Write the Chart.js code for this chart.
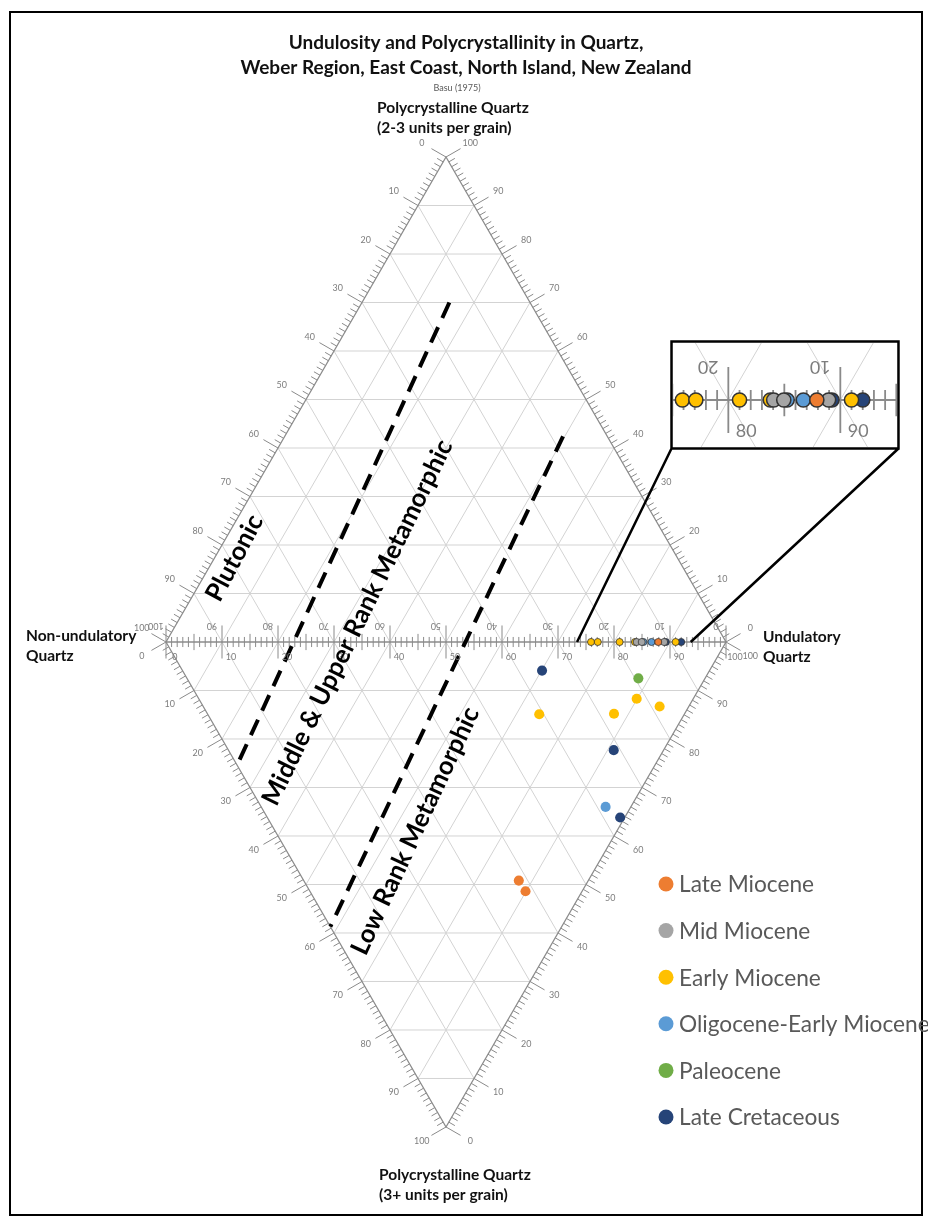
<!DOCTYPE html>
<html>
<head>
<meta charset="utf-8">
<script src="https://cdn.jsdelivr.net/npm/chart.js@4.4.1/dist/chart.umd.min.js"></script>
<style>
html,body{margin:0;padding:0;background:#fff;overflow:hidden;}
#wrap{position:relative;width:928px;height:1221px;overflow:hidden;background:#fff;}
#frame{position:absolute;left:9px;top:11px;width:910px;height:1201px;border:2px solid #000;}
#c1{position:absolute;left:0;top:0;width:928px;height:1221px;}
#c2{position:absolute;left:673px;top:343px;width:224px;height:104px;background:#fff;}
</style>
</head>
<body>
<div id="wrap">
  <div id="frame"></div>
  <canvas id="c1" width="928" height="1221"></canvas>
  <canvas id="c2" width="224" height="104"></canvas>
</div>
<script>
// ---------------- DATA ----------------
// Each sample: U = % undulatory quartz along the Non-undulatory/Undulatory axis,
// P = % polycrystalline quartz (3+ units per grain). P = 0 -> sample lies on the axis.
const seriesNames = ['Late Miocene','Mid Miocene','Early Miocene','Oligocene-Early Miocene','Paleocene','Late Cretaceous'];
const seriesColors = ['#ED7D31','#A5A5A5','#FFC000','#5B9BD5','#70AD47','#264478'];

const lateMioceneU = [87.9, 38.4, 38.5];
const lateMioceneP = [0, 49.2, 51.4];
const midMioceneU = [84.05, 84.95, 88.95];
const midMioceneP = [0, 0, 0];
const earlyMioceneU = [75.9, 77.1, 81.0, 83.75, 91.0, 78.2, 81.5, 59.2, 72.6];
const earlyMioceneP = [0, 0, 0, 0, 0, 11.7, 13.3, 14.9, 14.8];
const oligoEarlyMioceneU = [85.25, 86.7, 61.5];
const oligoEarlyMioceneP = [0, 0, 34.0];
const paleoceneU = [80.6];
const paleoceneP = [7.5];
const lateCretaceousU = [89.25, 92.0, 64.2, 68.8, 63.0];
const lateCretaceousP = [0, 0, 5.9, 22.3, 36.2];

const seriesU = [lateMioceneU, midMioceneU, earlyMioceneU, oligoEarlyMioceneU, paleoceneU, lateCretaceousU];
const seriesP = [lateMioceneP, midMioceneP, earlyMioceneP, oligoEarlyMioceneP, paleoceneP, lateCretaceousP];

// scale ticks / grid
const gridSteps = [10, 20, 30, 40, 50, 60, 70, 80, 90];
const labelValues = [0, 10, 20, 30, 40, 50, 60, 70, 80, 90, 100];

// Basu (1975) field boundaries: [U, Q(top)] -> [U, P(bottom)]
const boundaryA = [[15.6, 70.0], [0, 25.4]];
const boundaryB = [[49.7, 42.4], [0, 58.7]];

// ---------------- GEOMETRY HELPERS ----------------
const H = Math.sqrt(3) / 2;
const topPt = (U, Q) => ({x: U + Q / 2, y: Q * H});
const botPt = (U, P) => ({x: U + P / 2, y: -P * H});
const GAP = {x: NaN, y: NaN};

const edgeDefs = [
  {at: v => ({x: 50 - 0.5 * v, y: (100 - v) * H}), n: {x: -H, y: 0.5}},   // Non-undulatory % (upper left)
  {at: v => ({x: 100 - 0.5 * v, y: v * H}), n: {x: H, y: 0.5}},          // Poly 2-3 % (upper right)
  {at: v => ({x: 0.5 * v, y: -v * H}), n: {x: -H, y: -0.5}},             // Poly 3+ % (lower left)
  {at: v => ({x: 50 + 0.5 * v, y: -(100 - v) * H}), n: {x: H, y: -0.5}}  // Undulatory % (lower right)
];

function gridData() {
  const d = [];
  const seg = (a, b) => { d.push(a, b, GAP); };
  gridSteps.forEach(v => {
    seg(topPt(0, v), topPt(100 - v, v));
    seg(topPt(v, 0), topPt(v, 100 - v));
    seg(topPt(100 - v, 0), topPt(0, 100 - v));
    seg(botPt(0, v), botPt(100 - v, v));
    seg(botPt(v, 0), botPt(v, 100 - v));
    seg(botPt(100 - v, 0), botPt(0, 100 - v));
  });
  return d;
}
function edgeData() {
  const L = topPt(0, 0), T = topPt(0, 100), R = topPt(100, 0), B = botPt(0, 100);
  return [L, T, R, B, L, GAP, L, R];
}
function tickData() {
  const d = [];
  edgeDefs.forEach(e => {
    for (let v = 0; v <= 100; v++) {
      const p = e.at(v);
      const len = v % 10 === 0 ? 3.0 : 1.25;
      d.push(p, {x: p.x + e.n.x * len, y: p.y + e.n.y * len}, GAP);
    }
  });
  for (let v = 0; v <= 100; v++) {
    const len = v % 10 === 0 ? 2.95 : (v % 5 === 0 ? 1.45 : 0.9);
    d.push({x: v, y: -len}, {x: v, y: len}, GAP);
  }
  return d;
}
function boundaryData() {
  const d = [];
  [boundaryA, boundaryB].forEach(b => { d.push(topPt(b[0][0], b[0][1]), botPt(b[1][0], b[1][1]), GAP); });
  return d;
}
function zoomBoxData() {
  // magnifier frame (main chart units) and leader lines to the axis
  const l = 90.27, r = 130.80, t = 53.66, b = 34.55;
  return [{x: l, y: b}, {x: l, y: t}, {x: r, y: t}, {x: r, y: b}, {x: l, y: b}, GAP,
          {x: l, y: b}, {x: 73.4, y: 0}, GAP, {x: r, y: b}, {x: 93.7, y: 0}];
}
function lineDs(data, color, width, order, dash) {
  return {data, showLine: true, borderColor: color, borderWidth: width, pointRadius: 0,
          pointHoverRadius: 0, fill: false, tension: 0, order, borderDash: dash || [], spanGaps: false};
}
function makeDatasets(main, ppu) {
  const ds = [];
  const onAxis = c => c.raw && Math.abs(c.raw.y) < 1e-9;
  seriesNames.forEach((name, i) => {
    ds.push({label: name, isSeries: true,
      data: seriesU[i].map((u, k) => botPt(u, seriesP[i][k])),
      backgroundColor: seriesColors[i], borderColor: '#333',
      pointBorderWidth: c => (onAxis(c) ? 0.14 * ppu : 0),
      pointRadius: c => (onAxis(c) ? 0.63 * ppu : 0.9 * ppu),
      pointHoverRadius: c => (onAxis(c) ? 0.63 * ppu : 0.9 * ppu),
      showLine: false, order: 1});
  });
  ds.push(lineDs(gridData(), '#d3d3d3', 1, 20));
  ds.push(lineDs(edgeData(), '#8c8c8c', main ? 1.3 : 2, 15));
  ds.push(lineDs(tickData(), '#8a8a8a', main ? 1 : 1.8, 14));
  if (main) {
    ds.push(lineDs(boundaryData(), '#000', 4, 10, [17, 10]));
    ds.push(lineDs(zoomBoxData(), '#000', 2.5, 9));
  }
  return ds;
}

// ---------------- TEXT PLUGIN ----------------
const FONT = 'Lato, "Open Sans", sans-serif';
const textPlugin = {
  id: 'txt',
  afterDatasetsDraw(chart, args, o) {
    const ctx = chart.ctx, xs = chart.scales.x, ys = chart.scales.y;
    const px = p => [xs.getPixelForValue(p.x), ys.getPixelForValue(p.y)];
    const u = o.ppu;
    ctx.save();
    ctx.textAlign = 'center'; ctx.textBaseline = 'middle';
    ctx.fillStyle = '#7d7d7d';
    ctx.font = (1.6 * u) + 'px ' + FONT;
    edgeDefs.forEach(e => { labelValues.forEach(v => {
      const p = e.at(v);
      const [X, Y] = px({x: p.x + e.n.x * 5, y: p.y + e.n.y * 5});
      ctx.fillText(String(v), X, Y);
    }); });
    labelValues.forEach(v => {
      let [X, Y] = px({x: v + 1.6, y: -2.75});
      ctx.fillText(String(v), X, Y);
      [X, Y] = px({x: v - 1.8, y: 2.95});
      ctx.save(); ctx.translate(X, Y); ctx.rotate(Math.PI); ctx.fillText(String(100 - v), 0, 0); ctx.restore();
    });
    if (o.main) {
      // field names
      ctx.fillStyle = '#000';
      ctx.font = 'bold 25.5px ' + FONT;
      const field = (txt, p, deg) => {
        const [X, Y] = px(p);
        ctx.save(); ctx.translate(X, Y); ctx.rotate(-deg * Math.PI / 180); ctx.fillText(txt, 0, 0); ctx.restore();
      };
      field('Plutonic', {x: 12.25, y: 15.0}, 62);
      field('Middle & Upper Rank Metamorphic', {x: 34.2, y: 3.5}, 64);
      field('Low Rank Metamorphic', {x: 44.5, y: -33.75}, 65);

      // titles
      ctx.fillStyle = '#111';
      ctx.font = 'bold 19px ' + FONT;
      ctx.fillText('Undulosity and Polycrystallinity in Quartz,', 466, 43);
      ctx.fillText('Weber Region, East Coast, North Island, New Zealand', 466, 68);
      ctx.fillStyle = '#595959'; ctx.font = '9px ' + FONT;
      ctx.fillText('Basu (1975)', 457, 88);

      // pole names
      ctx.fillStyle = '#111'; ctx.textAlign = 'left';
      ctx.font = 'bold 15.5px ' + FONT;
      ctx.fillText('Polycrystalline Quartz', 377, 108);
      ctx.fillText('(2-3 units per grain)', 377, 128);
      ctx.fillText('Polycrystalline Quartz', 379, 1175);
      ctx.fillText('(3+ units per grain)', 379, 1195);
      ctx.fillText('Non-undulatory', 26, 636);
      ctx.fillText('Quartz', 26, 656);
      ctx.fillText('Undulatory', 763, 637);
      ctx.fillText('Quartz', 763, 657);

      // legend
      ctx.font = '22.7px ' + FONT;
      chart.data.datasets.filter(d => d.isSeries).forEach((d, i) => {
        const y = 884 + i * 46.6;
        ctx.beginPath(); ctx.arc(666, y, 7.5, 0, Math.PI * 2);
        ctx.fillStyle = d.backgroundColor; ctx.fill();
        ctx.fillStyle = '#595959'; ctx.fillText(d.label, 679, y + 1);
      });
    }
    ctx.restore();
  }
};

function makeChart(canvasId, main, ppu, xr, yr) {
  return new Chart(document.getElementById(canvasId), {
    type: 'scatter',
    data: {datasets: makeDatasets(main, ppu)},
    options: {
      responsive: false, devicePixelRatio: 1, animation: false, events: [],
      layout: {padding: 0, autoPadding: false},
      scales: {
        x: {type: 'linear', display: false, min: xr[0], max: xr[1]},
        y: {type: 'linear', display: false, min: yr[0], max: yr[1]}
      },
      plugins: {legend: {display: false}, tooltip: {enabled: false}, title: {display: false}, txt: {main, ppu}}
    },
    plugins: [textPlugin]
  });
}

// main diagram: 5.6 px per unit, axis at y=642, left apex at x=166
makeChart('c1', true, 5.6, [-166 / 5.6, (928 - 166) / 5.6], [-(1221 - 642) / 5.6, 642 / 5.6]);
// magnified view of the axis (x2)
makeChart('c2', false, 11.2, [75.06, 75.06 + 224 / 11.2], [5.09 - 104 / 11.2, 5.09]);
</script>
</body>
</html>
